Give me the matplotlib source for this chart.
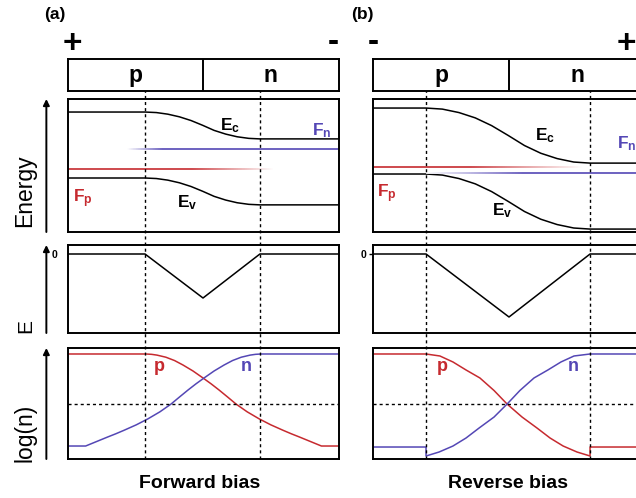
import numpy as np
import matplotlib
matplotlib.use("Agg")
import matplotlib.pyplot as plt
from matplotlib.collections import LineCollection
from matplotlib.colors import to_rgb

plt.rcParams['font.family'] = ['Liberation Sans', 'DejaVu Sans']
plt.rcParams['mathtext.fontset'] = 'custom'
plt.rcParams['mathtext.bf'] = 'Liberation Sans:bold'
plt.rcParams['mathtext.rm'] = 'Liberation Sans'

RED = '#c62a2f'
BLUE = '#5447b5'

# ---------------- forward bias (a) ----------------
fw_edges = [2.86, 7.10]        # depletion edges, junction at 5
fw_ec_x = [0, 2.86, 3.28, 3.7, 4.13, 4.56, 4.99, 5.41, 5.84, 6.26, 6.69, 7.10, 10]
fw_ec = [4.51, 4.51, 4.49, 4.43, 4.33, 4.19, 4.01, 3.82, 3.68, 3.58, 3.52, 3.50, 3.50]
fw_ev = [2.03, 2.03, 2.01, 1.95, 1.85, 1.71, 1.53, 1.34, 1.20, 1.10, 1.04, 1.02, 1.02]
fw_fp, fw_fn = 2.37, 3.12
fw_fp_fade = ([0, 4.6, 7.6], [1, 1, 0])
fw_fn_fade = ([2.2, 3.5, 10], [0, 1, 1])

fw_e_x = [0, 2.86, 5.0, 7.10, 10]
fw_e = [0, 0, -4.4, 0, 0]

fw_p_x = [0, 2.89, 3.1, 3.3, 3.63, 3.95, 4.26, 4.63, 5.0, 5.3, 5.59, 5.9, 6.22, 6.63, 7.07, 7.5, 7.96, 8.26, 8.56, 8.96, 9.37, 10]
fw_p = [9.46, 9.46, 9.43, 9.36, 9.17, 8.87, 8.47, 7.93, 7.30, 6.77, 6.22, 5.6, 4.95, 4.25, 3.62, 3.08, 2.58, 2.27, 1.98, 1.58, 1.17, 1.17]
fw_n_x = [0, 0.67, 1.08, 1.48, 1.78, 2.08, 2.54, 2.97, 3.41, 3.82, 4.14, 4.45, 4.74, 5.04, 5.41, 5.78, 6.09, 6.41, 6.74, 6.94, 7.15, 10]
fw_n = [1.17, 1.17, 1.58, 1.98, 2.27, 2.58, 3.08, 3.62, 4.25, 4.95, 5.6, 6.22, 6.77, 7.30, 7.93, 8.47, 8.87, 9.17, 9.36, 9.43, 9.46, 9.46]

# ---------------- reverse bias (b) ----------------
rv_edges = [1.95, 7.98]
rv_ec_x = [0, 1.95, 2.55, 3.16, 3.76, 4.36, 4.97, 5.57, 6.17, 6.77, 7.38, 7.98, 10]
rv_ec = [4.66, 4.66, 4.62, 4.49, 4.29, 4.00, 3.63, 3.25, 2.96, 2.76, 2.63, 2.59, 2.59]
rv_ev = [2.18, 2.18, 2.14, 2.01, 1.81, 1.52, 1.15, 0.77, 0.48, 0.28, 0.15, 0.11, 0.11]
rv_fp, rv_fn = 2.44, 2.22
rv_fp_fade = ([0, 3.6, 7.7], [1, 1, 0])
rv_fn_fade = ([1.95, 5.5, 10], [0, 1, 1])

rv_e_x = [0, 1.95, 5.0, 7.98, 10]
rv_e = [0, 0, -6.3, 0, 0]

rv_p_x = [0, 1.95, 2.46, 2.94, 3.42, 3.93, 4.45, 4.93, 5.48, 6.03, 6.51, 6.99, 7.5, 7.98, 7.98, 10]
rv_p = [9.46, 9.46, 9.28, 8.74, 8.02, 7.30, 6.17, 4.95, 3.78, 2.79, 1.89, 1.17, 0.63, 0.27, 1.08, 1.08]
rv_n_x = [0, 1.95, 1.95, 2.43, 2.94, 3.42, 3.9, 4.45, 4.93, 5.4, 5.92, 6.43, 6.91, 7.39, 7.98, 10]
rv_n = [1.08, 1.08, 0.27, 0.63, 1.17, 1.89, 2.79, 3.78, 4.95, 6.17, 7.30, 8.02, 8.74, 9.28, 9.46, 9.46]

log_mid = 4.95

W, H = 636, 498
fig = plt.figure(figsize=(W / 100, H / 100), dpi=100)


def box(l, t, r, b):
    return [l / W, 1 - b / H, (r - l) / W, (b - t) / H]


def bare(ax, xlim=(0, 10)):
    ax.set_xlim(*xlim)
    ax.set_xticks([])
    ax.set_yticks([])
    for s in ax.spines.values():
        s.set_linewidth(1.4)


def fade_line(ax, y, knots, color):
    kx, ka = knots
    xs = np.linspace(kx[0], kx[-1], 300)
    segs = [[(xs[i], y), (xs[i + 1], y)] for i in range(len(xs) - 1)]
    a = np.interp((xs[:-1] + xs[1:]) / 2, kx, ka)[:, None]
    cols = a * np.array(to_rgb(color)) + (1 - a) * 1.0
    ax.add_collection(LineCollection(segs, colors=cols, linewidths=1.2, capstyle='butt'))


def column(l, r, d, sign_l, sign_r, label, title, arrows):
    (edges, ec_x, ec, ev, fp, fn, fp_fade, fn_fade, e_x, e, p_x, p, n_x, n,
     lab_pos, e_tick) = d
    kw = dict(lw=1.1, color='k', solid_joinstyle='round')

    # p / n box
    ax0 = fig.add_axes(box(l, 59, r, 91))
    bare(ax0)
    ax0.set_ylim(0, 1)
    ax0.axvline(5.0, color='k', lw=1.4)
    ax0.text(2.5, 0.5, 'p', ha='center', va='center', fontsize=16.5, fontweight='bold')
    ax0.text(7.5, 0.5, 'n', ha='center', va='center', fontsize=16.5, fontweight='bold')

    # band diagram
    ax1 = fig.add_axes(box(l, 99, r, 232))
    bare(ax1)
    ax1.set_ylim(0, 5)
    ax1.plot(ec_x, ec, **kw)
    ax1.plot(ec_x, ev, **kw)
    fade_line(ax1, fp, fp_fade, RED)
    fade_line(ax1, fn, fn_fade, BLUE)
    fs = 12.5
    ax1.text(*lab_pos[0], r'$\mathbf{E_c}$', fontsize=fs, va='baseline')
    ax1.text(*lab_pos[1], r'$\mathbf{F_n}$', fontsize=fs, va='baseline', color=BLUE)
    ax1.text(*lab_pos[2], r'$\mathbf{F_p}$', fontsize=fs, va='baseline', color=RED)
    ax1.text(*lab_pos[3], r'$\mathbf{E_v}$', fontsize=fs, va='baseline')

    # electric field
    ax2 = fig.add_axes(box(l, 245, r, 333))
    bare(ax2)
    ax2.set_ylim(-7.9, 0.9)
    ax2.plot(e_x, e, **kw)
    ax2.set_yticks([0])
    ax2.set_yticklabels(['0'], fontsize=7.5, fontweight='bold')
    ax2.tick_params(axis='y', length=e_tick[0], width=1.0, pad=e_tick[1])

    # carrier densities
    ax3 = fig.add_axes(box(l, 348, r, 459))
    bare(ax3)
    ax3.set_ylim(0, 10)
    ax3.plot(p_x, p, lw=1.1, color=RED)
    ax3.plot(n_x, n, lw=1.1, color=BLUE)
    ax3.axhline(log_mid, color='k', lw=1.0, ls=(0, (2.2, 2.2)))
    ax3.text(lab_pos[4][0], 7.93, 'p', fontsize=13, fontweight='bold', color=RED, va='baseline')
    ax3.text(lab_pos[4][1], 7.93, 'n', fontsize=13, fontweight='bold', color=BLUE, va='baseline')

    # depletion edges running through all panels
    ov = fig.add_axes(box(l, 91, r, 459))
    ov.set_xlim(0, 10)
    ov.axis('off')
    for x in edges:
        ov.axvline(x, color='k', lw=1.0, ls=(0, (2.2, 2.2)))

    if arrows:
        for a in (ax1, ax2, ax3):
            a.annotate('', xy=(-0.078, 1.0), xytext=(-0.078, 0.0),
                       xycoords='axes fraction', annotation_clip=False,
                       arrowprops=dict(arrowstyle='-|>', lw=1.4, color='k',
                                       mutation_scale=9, shrinkA=0, shrinkB=0))

    fig.text(sign_l[0] / W, 1 - sign_l[1] / H, sign_l[2], fontsize=24,
             fontweight='bold', ha='center', va='center')
    fig.text(sign_r[0] / W, 1 - sign_r[1] / H, sign_r[2], fontsize=24,
             fontweight='bold', ha='center', va='center')
    fig.text(label[0] / W, 1 - label[1] / H, label[2], fontsize=12.5,
             fontweight='bold', ha='center', va='center')
    fig.text(title[0] / W, 1 - title[1] / H, title[2], fontsize=14,
             fontweight='bold', ha='center', va='center')


fw = (fw_edges, fw_ec_x, fw_ec, fw_ev, fw_fp, fw_fn, fw_fp_fade, fw_fn_fade,
      fw_e_x, fw_e, fw_p_x, fw_p, fw_n_x, fw_n,
      [(5.63, 3.83), (9.04, 3.65), (0.19, 1.13), (4.04, 0.94), (3.19, 6.41)],
      (0, 7))
rv = (rv_edges, rv_ec_x, rv_ec, rv_ev, rv_fp, rv_fn, rv_fp_fade, rv_fn_fade,
      rv_e_x, rv_e, rv_p_x, rv_p, rv_n_x, rv_n,
      [(5.96, 3.46), (8.97, 3.16), (0.15, 1.32), (4.38, 0.64), (2.35, 7.17)],
      (3, 2))

column(67.5, 338.5, fw, (72, 45, '+'), (333, 42, '-'), (55, 14, '(a)'),
       (200, 483, 'Forward bias'), True)
column(373, 645, rv, (373, 42, '-'), (626, 45, '+'), (362, 14, '(b)'),
       (508, 483, 'Reverse bias'), False)

# axis names on the left
for txt, y, fs in (('Energy', 227, 16.5), ('E', 333, 15), ('log(n)', 462, 16.5)):
    fig.text(31 / W, 1 - y / H, txt, fontsize=fs, rotation=90,
             rotation_mode='anchor', ha='left', va='baseline')

fig.savefig('out.png', dpi=100)
